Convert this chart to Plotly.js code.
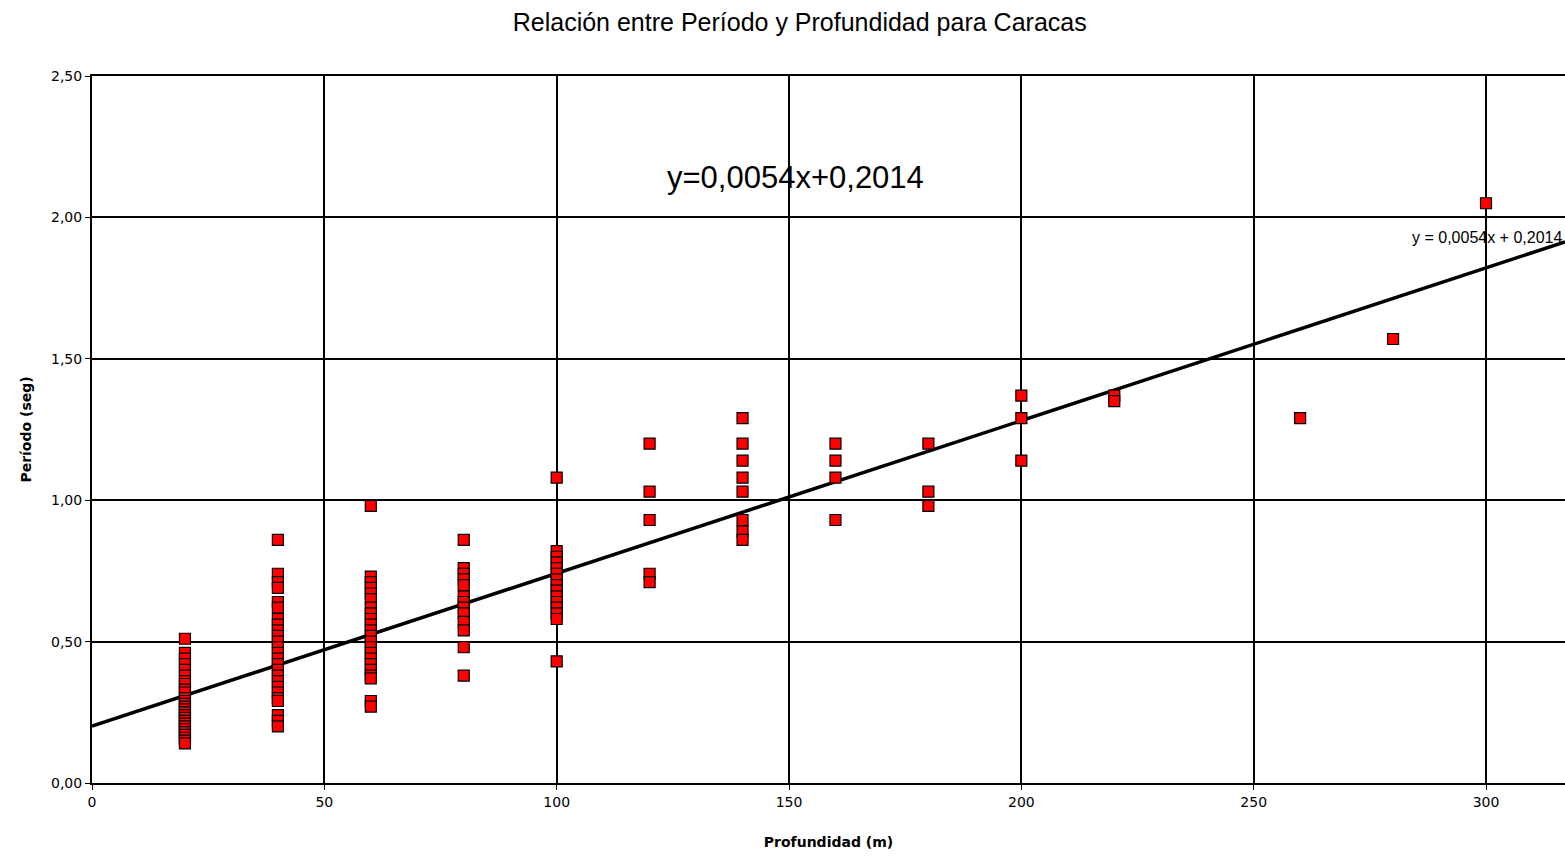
<!DOCTYPE html>
<html>
<head>
<meta charset="utf-8">
<script src="https://cdn.plot.ly/plotly-3.0.1.min.js"></script>
<style>html,body{margin:0;padding:0;background:#fff;}#chart{width:1565px;height:857px;}</style>
</head>
<body>
<div id="chart"></div>
<script>
// Profundidad (m) groups and Período (seg) readings
const depths = [20, 40, 60, 80, 100, 120, 140, 160, 180, 200, 220, 260, 280, 300];
const periods20 = [0.51, 0.46, 0.44, 0.42, 0.40, 0.38, 0.36, 0.35, 0.33, 0.32, 0.30, 0.29, 0.28, 0.27, 0.26, 0.25, 0.24, 0.23, 0.22, 0.21, 0.20, 0.19, 0.18, 0.17, 0.16, 0.15, 0.14];
const periods40 = [0.86, 0.74, 0.71, 0.69, 0.64, 0.62, 0.58, 0.56, 0.54, 0.52, 0.50, 0.48, 0.46, 0.44, 0.42, 0.40, 0.38, 0.36, 0.34, 0.32, 0.30, 0.29, 0.24, 0.22, 0.20];
const periods60 = [0.98, 0.73, 0.71, 0.69, 0.67, 0.65, 0.62, 0.60, 0.58, 0.56, 0.54, 0.52, 0.50, 0.48, 0.46, 0.44, 0.42, 0.40, 0.38, 0.37, 0.29, 0.27];
const periods80 = [0.86, 0.76, 0.74, 0.72, 0.70, 0.66, 0.64, 0.62, 0.60, 0.57, 0.54, 0.48, 0.38];
const periods100 = [1.08, 0.82, 0.80, 0.78, 0.76, 0.74, 0.72, 0.70, 0.68, 0.66, 0.64, 0.62, 0.60, 0.58, 0.43];
const periods120 = [1.20, 1.03, 0.93, 0.74, 0.71];
const periods140 = [1.29, 1.20, 1.14, 1.08, 1.03, 0.93, 0.89, 0.86];
const periods160 = [1.20, 1.14, 1.08, 0.93];
const periods180 = [1.20, 1.03, 0.98];
const periods200 = [1.37, 1.29, 1.14];
const periods220 = [1.37, 1.35];
const periods260 = [1.29];
const periods280 = [1.57];
const periods300 = [2.05];
const groups = [periods20, periods40, periods60, periods80, periods100, periods120, periods140, periods160, periods180, periods200, periods220, periods260, periods280, periods300];

// Linear trend
const slope = 0.0054;
const intercept = 0.2014;
const trendX = [0, 317];

const xs = [], ys = [];
groups.forEach((g, i) => g.forEach(v => { xs.push(depths[i]); ys.push(v); }));

const traces = [
  {
    x: trendX, y: trendX.map(x => slope * x + intercept),
    mode: 'lines', type: 'scatter', line: {color: '#000', width: 3.5},
    hoverinfo: 'skip', showlegend: false
  },
  {
    x: xs, y: ys, mode: 'markers', type: 'scatter',
    marker: {symbol: 'square', size: 11, color: '#ff0000', line: {color: '#000', width: 1.2}},
    showlegend: false
  }
];

const tickFont = {family: 'DejaVu Sans', size: 14, color: '#000'};
const layout = {
  width: 1565, height: 857,
  separators: ',.',
  paper_bgcolor: '#fff', plot_bgcolor: '#fff',
  margin: {l: 92, r: 0, t: 76, b: 74},
  title: {text: 'Relación entre Período y Profundidad para Caracas', x: 0.511, xanchor: 'center', y: 0.974, yanchor: 'middle',
          font: {family: 'Liberation Sans, Arial', size: 25, color: '#000'}},
  xaxis: {
    range: [0, 317], tickvals: [0, 50, 100, 150, 200, 250, 300], ticktext: ['0','50','100','150','200','250','300'],
    showgrid: true, gridcolor: '#000', gridwidth: 2, zeroline: false,
    showline: true, linecolor: '#000', linewidth: 2, mirror: true,
    ticks: 'outside', ticklen: 5, tickcolor: '#000', tickfont: tickFont,
    title: {text: '<b>Profundidad (m)</b>', font: {family: 'DejaVu Sans', size: 14, color: '#000'}, standoff: 28}
  },
  yaxis: {
    range: [0, 2.5], tickvals: [0, 0.5, 1, 1.5, 2, 2.5], tickformat: '.2f',
    showgrid: true, gridcolor: '#000', gridwidth: 2, zeroline: false,
    showline: true, linecolor: '#000', linewidth: 2, mirror: true,
    ticks: 'outside', ticklen: 5, tickcolor: '#000', tickfont: tickFont,
    title: {text: '<b>Período (seg)</b>', font: {family: 'DejaVu Sans', size: 14, color: '#000'}, standoff: 16}
  },
  annotations: [
    {x: 123.3, y: 2.14, xref: 'x', yref: 'y', xanchor: 'left', yanchor: 'middle', showarrow: false,
     text: 'y=0,0054x+0,2014', font: {family: 'Liberation Sans, Arial', size: 31, color: '#000'}},
    {x: 0.999, y: 1.93, xref: 'paper', yref: 'y', xanchor: 'right', yanchor: 'middle', showarrow: false,
     text: 'y = 0,0054x + 0,2014', font: {family: 'Liberation Sans, Arial', size: 16, color: '#000'}}
  ]
};

Plotly.newPlot('chart', traces, layout, {displayModeBar: false, staticPlot: true});
</script>
</body>
</html>
